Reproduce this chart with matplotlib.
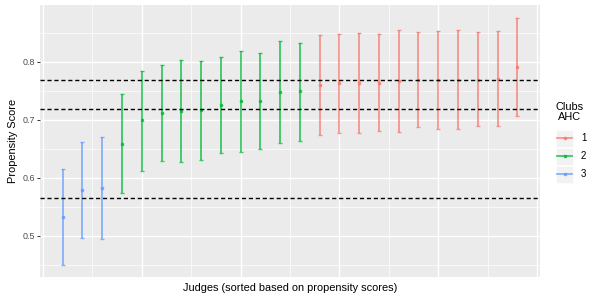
import numpy as np
import matplotlib.pyplot as plt
from matplotlib.lines import Line2D
from matplotlib.patches import Rectangle

plt.rcParams['font.family'] = ['Liberation Sans', 'DejaVu Sans']

# propensity score per judge (sorted), with interval bounds and AHC club
score = [0.533, 0.579, 0.582,
         0.659, 0.699, 0.712, 0.716, 0.717, 0.725, 0.732, 0.733, 0.748, 0.749,
         0.760, 0.763, 0.763, 0.764, 0.767, 0.769, 0.769, 0.769, 0.769, 0.771, 0.791]
upper = [0.616, 0.662, 0.670,
         0.745, 0.785, 0.795, 0.804, 0.802, 0.808, 0.818, 0.816, 0.836, 0.833,
         0.847, 0.848, 0.849, 0.848, 0.855, 0.851, 0.853, 0.855, 0.851, 0.854, 0.875]
lower = [0.449, 0.497, 0.494,
         0.574, 0.611, 0.629, 0.628, 0.630, 0.642, 0.645, 0.649, 0.660, 0.663,
         0.674, 0.678, 0.677, 0.681, 0.679, 0.687, 0.685, 0.685, 0.689, 0.689, 0.706]
club = [3, 3, 3,
        2, 2, 2, 2, 2, 2, 2, 2, 2, 2,
        1, 1, 1, 1, 1, 1, 1, 1, 1, 1, 1]

colors = {1: '#F8766D', 2: '#00BA38', 3: '#619CFF'}

judge = np.arange(1, len(score) + 1)
score = np.array(score)
upper = np.array(upper)
lower = np.array(lower)
club = np.array(club)

fig = plt.figure(figsize=(6, 3), dpi=100)
ax = fig.add_axes([40 / 600, 1 - 277 / 300, 500 / 600, 272 / 300])
ax.set_facecolor('#EBEBEB')

for c in [1, 2, 3]:
    m = club == c
    ax.errorbar(judge[m], score[m], yerr=[score[m] - lower[m], upper[m] - score[m]],
                fmt='s', ms=1.6, color=colors[c], ecolor=colors[c], elinewidth=1.3,
                capsize=1.2, capthick=1.0, alpha=0.75, zorder=3)

# dashed line at each club mean
for c in [1, 2, 3]:
    ax.axhline(score[club == c].mean(), color='black', ls=(0, (3, 2)), lw=1.0, zorder=4)

ax.set_xlim(-0.15, 25.15)
ax.set_ylim(0.429, 0.898)
ax.set_xticks(np.arange(0, 26, 5))
ax.set_xticks(np.arange(2.5, 25, 5), minor=True)
ax.set_yticks([0.5, 0.6, 0.7, 0.8])
ax.set_yticks([0.45, 0.55, 0.65, 0.75, 0.85], minor=True)
ax.set_yticklabels(['0.5', '0.6', '0.7', '0.8'])
ax.grid(which='major', color='white', lw=1.0)
ax.grid(which='minor', color='white', lw=0.5)
ax.set_axisbelow(True)
ax.tick_params(axis='x', which='both', bottom=False, labelbottom=False)
ax.tick_params(axis='y', which='major', length=2.2, width=0.7, color='#333333',
               labelsize=6.4, labelcolor='#4D4D4D', pad=1.5)
ax.tick_params(axis='y', which='minor', length=0)
for s in ax.spines.values():
    s.set_visible(False)

ax.set_xlabel('Judges (sorted based on propensity scores)', fontsize=7.9, labelpad=4)
ax.set_ylabel('Propensity Score', fontsize=7.9, labelpad=3)

# legend
fig.text(570 / 600, 1 - 112 / 300, 'Clubs\nAHC', ha='center', va='center',
         fontsize=7.9, linespacing=1.0)
for i, c in enumerate([1, 2, 3]):
    yc = 1 - (138 + 18 * i) / 300
    fig.patches.append(Rectangle((556 / 600, yc - 8.5 / 300), 17 / 600, 17 / 300,
                                 transform=fig.transFigure, facecolor='#F2F2F2',
                                 edgecolor='white', lw=0.5))
    fig.add_artist(Line2D([557 / 600, 572 / 600], [yc, yc], transform=fig.transFigure,
                          color=colors[c], lw=1.3, alpha=0.75, zorder=3))
    fig.add_artist(Line2D([564.5 / 600], [yc], transform=fig.transFigure,
                          color=colors[c], marker='s', ms=1.6, alpha=0.75, zorder=4))
    fig.text(581 / 600, yc, str(c), ha='left', va='center', fontsize=7)

fig.savefig('out.png', dpi=100)
